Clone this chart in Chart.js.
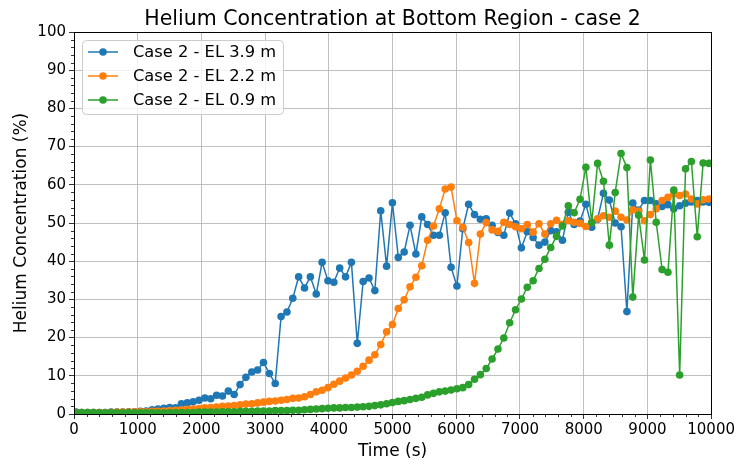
<!DOCTYPE html>
<html>
<head>
<meta charset="utf-8">
<title>Helium Concentration at Bottom Region - case 2</title>
<script src="https://cdn.jsdelivr.net/npm/chart.js@4.4.1/dist/chart.umd.min.js"></script>
<style>
  html, body { margin: 0; padding: 0; background: #fff; }
  #wrap { width: 737px; height: 460px; }
</style>
</head>
<body>
<div id="wrap"><canvas id="heliumChart" width="737" height="460"></canvas></div>
<script>
'use strict';

// Output times of the probes (s)
const sampleTimes = [
    30, 122, 214, 306, 398, 490, 582, 674, 766, 858,
    950, 1042, 1134, 1226, 1318, 1410, 1502, 1594, 1686, 1778,
    1870, 1962, 2054, 2146, 2238, 2330, 2422, 2514, 2606, 2698,
    2790, 2882, 2974, 3066, 3158, 3250, 3342, 3434, 3526, 3618,
    3710, 3802, 3894, 3986, 4078, 4170, 4262, 4354, 4446, 4538,
    4630, 4722, 4814, 4906, 4998, 5090, 5182, 5274, 5366, 5458,
    5550, 5642, 5734, 5826, 5918, 6010, 6102, 6194, 6286, 6378,
    6470, 6562, 6654, 6746, 6838, 6930, 7022, 7114, 7206, 7298,
    7390, 7482, 7574, 7666, 7758, 7850, 7942, 8034, 8126, 8218,
    8310, 8402, 8494, 8586, 8678, 8770, 8862, 8954, 9046, 9138,
    9230, 9322, 9414, 9506, 9598, 9690, 9782, 9874, 9966
];

// Helium concentration (%) at each elevation
const el39 = [
    0.5, 0.4, 0.4, 0.4, 0.4, 0.4, 0.5, 0.5, 0.5, 0.6,
    0.6, 0.7, 0.8, 1.1, 1.3, 1.5, 1.7, 1.6, 2.7, 2.9,
    3.2, 3.6, 4.2, 4.0, 4.9, 4.7, 6.0, 5.1, 7.7, 9.6,
    11.0, 11.5, 13.5, 10.6, 8.0, 25.5, 26.7, 30.3, 35.9, 33.0,
    35.9, 31.4, 39.7, 34.9, 34.5, 38.2, 35.9, 39.7, 18.5, 34.7,
    35.6, 32.3, 53.2, 38.7, 55.3, 41.0, 42.4, 49.4, 41.9, 51.6,
    49.6, 46.8, 46.8, 52.7, 38.4, 33.5, 48.5, 54.9, 52.2, 51.0,
    51.1, 49.4, 47.5, 46.8, 52.6, 49.8, 43.5, 47.7, 46.2, 44.2,
    45.0, 48.0, 47.7, 45.5, 52.8, 49.6, 50.5, 54.9, 48.9, 51.0,
    57.8, 56.0, 50.0, 49.0, 26.8, 55.2, 53.4, 55.9, 55.9, 55.0,
    54.3, 54.8, 53.7, 54.5, 55.2, 55.5, 55.9, 55.5, 55.4
];

const el22 = [
    0.4, 0.4, 0.4, 0.4, 0.4, 0.4, 0.4, 0.5, 0.5, 0.5,
    0.6, 0.6, 0.6, 0.7, 0.7, 0.8, 0.9, 1.0, 1.1, 1.2,
    1.3, 1.4, 1.6, 1.7, 1.8, 2.0, 2.1, 2.2, 2.4, 2.6,
    2.7, 2.9, 3.1, 3.3, 3.4, 3.6, 3.8, 4.1, 4.2, 4.5,
    5.1, 5.8, 6.2, 6.9, 7.8, 8.6, 9.4, 10.2, 11.2, 12.5,
    14.1, 15.5, 18.2, 21.5, 23.4, 27.6, 29.9, 33.3, 35.8, 38.8,
    45.5, 49.2, 53.7, 58.9, 59.4, 50.6, 48.9, 44.9, 34.2, 47.1,
    50.1, 48.2, 47.8, 50.2, 49.6, 49.0, 48.5, 49.6, 47.6, 49.8,
    47.1, 49.8, 50.7, 49.6, 50.6, 50.2, 49.9, 49.1, 50.2, 51.1,
    51.9, 51.5, 53.1, 51.5, 50.8, 53.4, 53.1, 50.6, 52.2, 53.7,
    55.9, 56.7, 57.6, 57.2, 57.6, 56.3, 55.0, 56.1, 56.3
];

const el09 = [
    0.4, 0.4, 0.4, 0.4, 0.3, 0.3, 0.3, 0.3, 0.3, 0.3,
    0.3, 0.3, 0.3, 0.3, 0.3, 0.3, 0.4, 0.4, 0.4, 0.4,
    0.4, 0.5, 0.5, 0.5, 0.5, 0.6, 0.6, 0.6, 0.7, 0.7,
    0.7, 0.8, 0.8, 0.8, 0.9, 0.9, 0.9, 1.0, 1.0, 1.1,
    1.2, 1.3, 1.4, 1.5, 1.6, 1.6, 1.7, 1.7, 1.8, 1.9,
    2.0, 2.2, 2.4, 2.7, 3.0, 3.3, 3.5, 3.8, 4.1, 4.4,
    5.0, 5.4, 5.8, 6.0, 6.3, 6.6, 6.9, 7.7, 9.1, 10.3,
    11.9, 14.4, 17.0, 19.9, 23.9, 27.3, 30.1, 33.2, 34.9, 38.1,
    40.5, 43.6, 46.5, 49.2, 54.5, 52.7, 56.2, 64.6, 50.1, 65.6,
    60.9, 44.2, 58.0, 68.2, 64.5, 30.6, 52.0, 40.3, 66.5, 50.2,
    37.8, 37.1, 58.6, 10.2, 64.2, 66.1, 46.4, 65.7, 65.6
];

const seriesLabels = ['Case 2 - EL 3.9 m', 'Case 2 - EL 2.2 m', 'Case 2 - EL 0.9 m'];
const seriesColors = ['#1f77b4', '#ff7f0e', '#2ca02c'];

const xRange = [0, 10000];
const yRange = [0, 100];
const xMajorStep = 1000;
const yMajorStep = 10;
const xMinorStep = 200;
const yMinorStep = 2;

const FONT = '"DejaVu Sans", "Liberation Sans", sans-serif';

function toPoints(values) {
    return values.map((v, i) => ({ x: sampleTimes[i], y: v }));
}

function makeDataset(values, idx) {
    return {
        label: seriesLabels[idx],
        data: toPoints(values),
        borderColor: seriesColors[idx],
        backgroundColor: seriesColors[idx],
        pointBackgroundColor: seriesColors[idx],
        pointBorderWidth: 0,
        pointRadius: 3.8,
        borderWidth: 1.5,
        tension: 0,
        order: 3 - idx   // last series ends up on top
    };
}

// spines, minor ticks, titles and the legend box
const decorPlugin = {
    id: 'decor',
    afterDraw(chart) {
        const ctx = chart.ctx;
        const area = chart.chartArea;
        const xs = chart.scales.x;
        const ys = chart.scales.y;
        ctx.save();

        ctx.strokeStyle = '#000';
        ctx.lineWidth = 0.8;
        ctx.beginPath();
        for (let t = xRange[0]; t <= xRange[1]; t += xMinorStep) {
            if (t % xMajorStep === 0) continue;
            const px = Math.round(xs.getPixelForValue(t)) + 0.5;
            ctx.moveTo(px, area.bottom);
            ctx.lineTo(px, area.bottom + 3);
        }
        for (let v = yRange[0]; v <= yRange[1]; v += yMinorStep) {
            if (v % yMajorStep === 0) continue;
            const py = Math.round(ys.getPixelForValue(v)) + 0.5;
            ctx.moveTo(area.left, py);
            ctx.lineTo(area.left - 3, py);
        }
        ctx.stroke();

        ctx.lineWidth = 1;
        ctx.strokeRect(Math.round(area.left) + 0.5, Math.round(area.top) + 0.5,
            Math.round(area.width), Math.round(area.height));

        // titles
        const cx = (area.left + area.right) / 2;
        ctx.fillStyle = '#000';
        ctx.textAlign = 'center';
        ctx.textBaseline = 'alphabetic';
        ctx.font = '20.5px ' + FONT;
        ctx.fillText('Helium Concentration at Bottom Region - case 2', cx, 25);
        ctx.font = '17px ' + FONT;
        ctx.fillText('Time (s)', cx, 456);
        ctx.save();
        ctx.translate(26, (area.top + area.bottom) / 2);
        ctx.rotate(-Math.PI / 2);
        ctx.fillText('Helium Concentration (%)', 0, 0);
        ctx.restore();

        // legend
        const lx = area.left + 8, ly = area.top + 8, lw = 201, lh = 74;
        ctx.beginPath();
        ctx.roundRect(lx + 0.5, ly + 0.5, lw, lh, 4);
        ctx.fillStyle = 'rgba(255,255,255,0.8)';
        ctx.fill();
        ctx.strokeStyle = '#cccccc';
        ctx.lineWidth = 1;
        ctx.stroke();

        ctx.font = '16.3px ' + FONT;
        ctx.textAlign = 'left';
        ctx.textBaseline = 'middle';
        chart.data.datasets.forEach((ds, i) => {
            const ry = ly + 12 + i * 24;
            ctx.strokeStyle = ds.borderColor;
            ctx.lineWidth = 1.5;
            ctx.beginPath();
            ctx.moveTo(lx + 6, ry);
            ctx.lineTo(lx + 36, ry);
            ctx.stroke();
            ctx.fillStyle = ds.borderColor;
            ctx.beginPath();
            ctx.arc(lx + 21, ry, 3.8, 0, Math.PI * 2);
            ctx.fill();
            ctx.fillStyle = '#000';
            ctx.fillText(ds.label, lx + 51, ry + 1);
        });

        ctx.restore();
    }
};

const tickFont = { family: FONT, size: 15 };

new Chart(document.getElementById('heliumChart').getContext('2d'), {
    type: 'line',
    data: {
        datasets: [makeDataset(el39, 0), makeDataset(el22, 1), makeDataset(el09, 2)]
    },
    options: {
        responsive: false,
        animation: false,
        devicePixelRatio: 1,
        layout: { padding: { top: 32, right: 25, bottom: 0, left: 0 } },
        plugins: {
            legend: { display: false },
            title: { display: false },
            tooltip: { enabled: false }
        },
        scales: {
            x: {
                type: 'linear',
                min: xRange[0],
                max: xRange[1],
                afterFit(scale) { scale.height = 46; },
                ticks: {
                    stepSize: xMajorStep,
                    color: '#000',
                    font: tickFont,
                    maxRotation: 0,
                    padding: 2,
                    callback: (value) => String(value)
                },
                grid: {
                    color: '#b0b0b0',
                    lineWidth: 0.8,
                    tickColor: '#000',
                    tickLength: 5,
                    tickWidth: 0.8
                },
                border: { color: '#000', width: 1 }
            },
            y: {
                min: yRange[0],
                max: yRange[1],
                afterFit(scale) { scale.width = 74; },
                ticks: {
                    stepSize: yMajorStep,
                    color: '#000',
                    font: tickFont,
                    padding: 3
                },
                grid: {
                    color: '#b0b0b0',
                    lineWidth: 0.8,
                    tickColor: '#000',
                    tickLength: 5,
                    tickWidth: 0.8
                },
                border: { color: '#000', width: 1 }
            }
        }
    },
    plugins: [decorPlugin]
});
</script>
</body>
</html>
